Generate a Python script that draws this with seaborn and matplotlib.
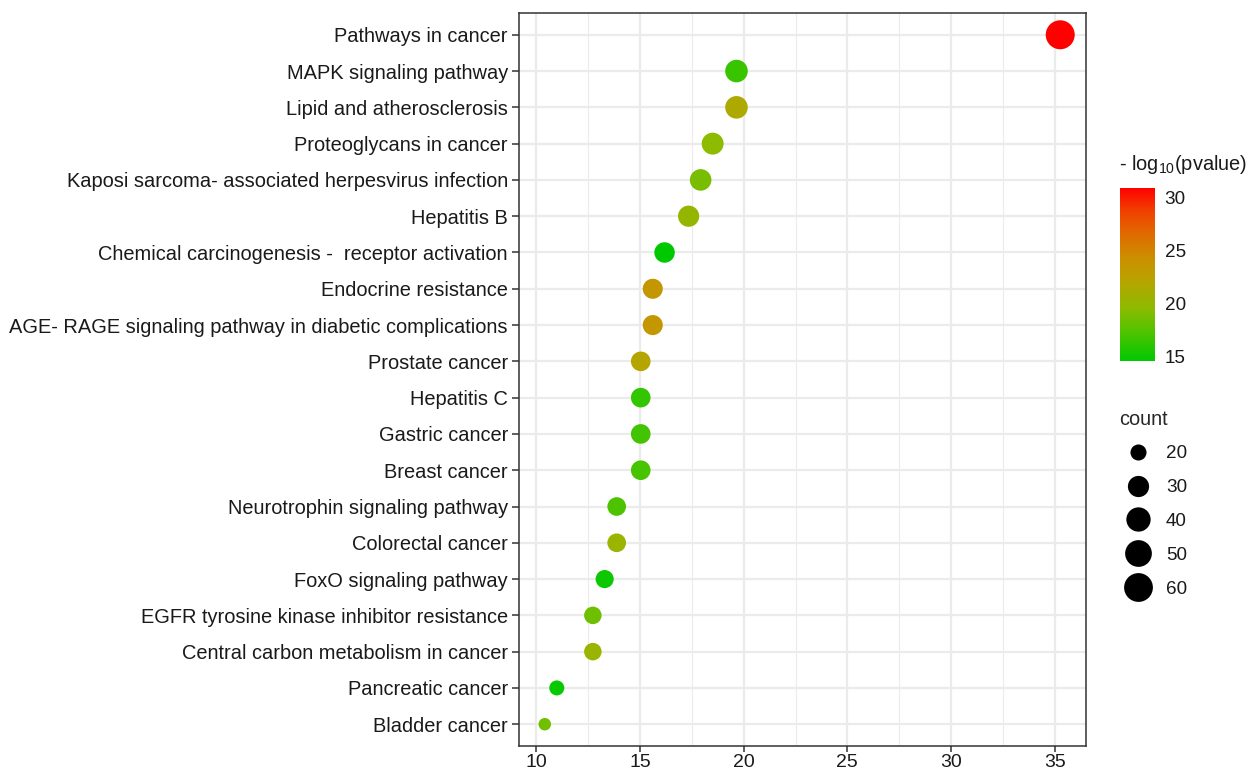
import numpy as np
import pandas as pd
import matplotlib
matplotlib.use("Agg")
import matplotlib.pyplot as plt
from matplotlib.colors import LinearSegmentedColormap, Normalize
from matplotlib.cm import ScalarMappable
from matplotlib.lines import Line2D
import seaborn as sns

# KEGG enrichment, top 20 pathways
pathways = ["Pathways in cancer", "MAPK signaling pathway", "Lipid and atherosclerosis",
            "Proteoglycans in cancer", "Kaposi sarcoma- associated herpesvirus infection",
            "Hepatitis B", "Chemical carcinogenesis -  receptor activation",
            "Endocrine resistance", "AGE- RAGE signaling pathway in diabetic complications",
            "Prostate cancer", "Hepatitis C", "Gastric cancer", "Breast cancer",
            "Neurotrophin signaling pathway", "Colorectal cancer", "FoxO signaling pathway",
            "EGFR tyrosine kinase inhibitor resistance", "Central carbon metabolism in cancer",
            "Pancreatic cancer", "Bladder cancer"]
ratio = [35.27, 19.65, 19.65, 18.50, 17.92, 17.34, 16.18, 15.61, 15.61, 15.03,
         15.03, 15.03, 15.03, 13.87, 13.87, 13.29, 12.72, 12.72, 10.98, 10.40]
count = [61, 34, 34, 32, 31, 30, 28, 27, 27, 26, 26, 26, 26, 24, 24, 23, 22, 22, 19, 18]
neglogp = [30.85, 16.5, 21.5, 19.5, 18.8, 20.0, 14.53, 23.5, 23.5, 22.0,
           16.3, 16.8, 16.9, 17.2, 20.3, 15.0, 18.3, 20.3, 14.8, 18.5]

color_ticks = [15, 20, 25, 30]
size_breaks = [20, 30, 40, 50, 60]

df = pd.DataFrame({"pathway": pathways, "ratio": ratio, "count": count, "logp": neglogp})

sns.set_style("white")
plt.rcParams["font.family"] = ["Liberation Sans", "DejaVu Sans"]
plt.rcParams["mathtext.fontset"] = "custom"
plt.rcParams["mathtext.rm"] = "Liberation Sans"

FS = 14.4

# green -> red, roughly like ggplot's Lab gradient
cm = LinearSegmentedColormap.from_list(
    "gr", [(0.0, "#00c800"), (0.15, "#48c400"), (0.3, "#8cbb00"), (0.45, "#b4a600"),
           (0.6, "#cc8e00"), (0.75, "#e26600"), (0.88, "#f23c00"), (1.0, "#ff0000")])
vmin, vmax = 14.53, 30.85
cmin, cmax = min(count), max(count)


def diam_px(c):
    # area-style size scale, diameter in pixels
    return 12.5 + 16.5 * np.sqrt((c - cmin) / (cmax - cmin))


size_map = {c: (diam_px(c) * 0.72) ** 2 for c in sorted(set(count))}

fig = plt.figure(figsize=(12.5, 7.75), dpi=100)
ax = fig.add_axes([519 / 1250, 1 - 746 / 775, (1086 - 519) / 1250, (746 - 13) / 775])

sns.scatterplot(data=df, x="ratio", y="pathway", hue="logp", size="count",
                palette=cm, hue_norm=(vmin, vmax), sizes=size_map,
                linewidth=0, legend=False, ax=ax, zorder=3)

# ggplot-like 5% expansion
span = max(ratio) - min(ratio)
ax.set_xlim(min(ratio) - 0.05 * span, max(ratio) + 0.05 * span)
ax.set_ylim(len(pathways) - 0.4, -0.6)
ax.set_xticks([10, 15, 20, 25, 30, 35])
ax.set_xticks([12.5, 17.5, 22.5, 27.5, 32.5], minor=True)
ax.grid(which="major", color="#ebebeb", lw=1.6, zorder=0)
ax.grid(which="minor", axis="x", color="#ebebeb", lw=0.8, zorder=0)
ax.set_axisbelow(True)
ax.set_xlabel("")
ax.set_ylabel("")
for s in ax.spines.values():
    s.set_color("#333333")
    s.set_linewidth(1.1)
ax.tick_params(axis="y", which="major", length=5, width=1.1, color="#333333",
               labelsize=FS, labelcolor="#1a1a1a", pad=3, left=True)
ax.tick_params(axis="x", which="major", length=4, width=1.1, color="#333333",
               labelsize=14, labelcolor="#1a1a1a", pad=1.5, bottom=True)
ax.tick_params(axis="x", which="minor", length=0)

# colour legend
fig.text(1119 / 1250, 1 - 164 / 775, "- log$_{\\mathrm{10}}$(pvalue)", fontsize=FS,
         color="#1a1a1a", va="center", ha="left")
cax = fig.add_axes([1120 / 1250, 1 - 361 / 775, 35 / 1250, 173 / 775])
cb = fig.colorbar(ScalarMappable(norm=Normalize(vmin, vmax), cmap=cm), cax=cax)
cb.outline.set_visible(False)
cb.set_ticks(color_ticks)
cax.tick_params(direction="in", color="white", length=6, width=1, labelsize=FS - 0.8,
                labelcolor="#1a1a1a", left=True, right=True, pad=7)

# size legend
handles = [Line2D([], [], marker="o", ls="", color="black", markeredgewidth=0,
                  markersize=diam_px(b) * 0.72) for b in size_breaks]
leg = fig.legend(handles, [str(b) for b in size_breaks], title="count",
                 loc="upper left", bbox_to_anchor=(1112 / 1250, 1 - 402 / 775),
                 frameon=False, fontsize=FS - 0.8, title_fontsize=FS,
                 labelspacing=0.88, handletextpad=0.45, alignment="left",
                 borderaxespad=0)
for t in leg.get_texts():
    t.set_color("#1a1a1a")

fig.savefig("out.png", dpi=100)
